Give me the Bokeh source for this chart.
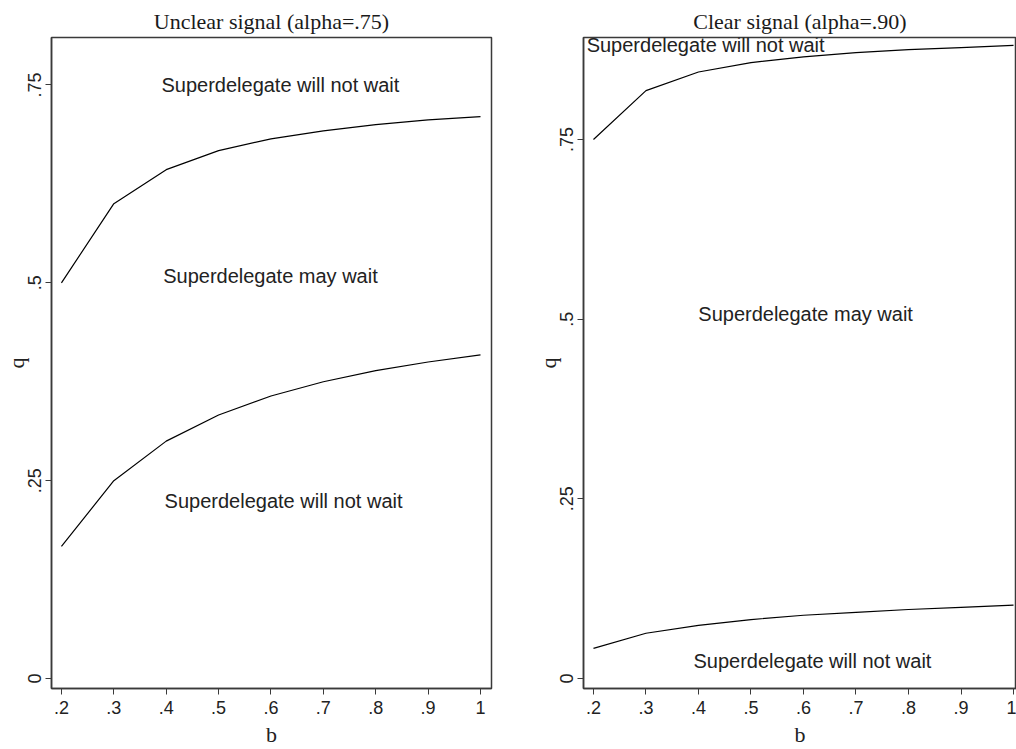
from bokeh.plotting import figure
from bokeh.layouts import row
from bokeh.models import FixedTicker, Range1d, Label
from bokeh.embed import file_html
from bokeh.resources import INLINE

# ---- data ----
b = [0.2, 0.3, 0.4, 0.5, 0.6, 0.7, 0.8, 0.9, 1.0]
unclear_upper = [0.500, 0.600, 0.643, 0.667, 0.682, 0.692, 0.700, 0.706, 0.710]
unclear_lower = [0.167, 0.250, 0.300, 0.333, 0.357, 0.375, 0.389, 0.400, 0.409]
clear_upper = [0.750, 0.818, 0.844, 0.857, 0.865, 0.871, 0.875, 0.878, 0.881]
clear_lower = [0.042, 0.063, 0.074, 0.082, 0.088, 0.092, 0.096, 0.099, 0.102]

x_ticks = [0.2, 0.3, 0.4, 0.5, 0.6, 0.7, 0.8, 0.9, 1.0]
x_tick_labels = [".2", ".3", ".4", ".5", ".6", ".7", ".8", ".9", "1"]
y_ticks = [0, 0.25, 0.5, 0.75]
y_tick_labels = ["0", ".25", ".5", ".75"]

titles = ["Unclear signal (alpha=.75)", "Clear signal (alpha=.90)"]
x_label = "b"
y_label = "q"
txt_not_wait = "Superdelegate will not wait"
txt_may_wait = "Superdelegate may wait"

# annotation placements (b, q)
unclear_notes = [(0.618, 0.750, txt_not_wait, "center"),
                 (0.599, 0.509, txt_may_wait, "center"),
                 (0.624, 0.224, txt_not_wait, "center")]
clear_notes = [(0.187, 0.881, txt_not_wait, "left"),
               (0.604, 0.507, txt_may_wait, "center"),
               (0.617, 0.024, txt_not_wait, "center")]

SANS = "Liberation Sans"
SERIF = "Liberation Serif"
AXIS_COLOR = "#3a3a3a"
TEXT_COLOR = "#222222"


def make_panel(title, upper, lower, notes, xr, yr, width, height, mb_right):
    p = figure(width=width, height=height, output_backend="svg",
               toolbar_location=None, title=title,
               x_range=Range1d(*xr), y_range=Range1d(*yr),
               min_border_left=51, min_border_right=mb_right,
               min_border_top=37, min_border_bottom=60)
    p.title.align = "center"
    p.title.text_font = SERIF
    p.title.text_font_size = "22px"
    p.title.text_font_style = "normal"
    p.title.text_color = "#1a1a1a"
    p.title.standoff = 7
    p.grid.visible = False
    p.background_fill_color = "white"
    p.border_fill_color = "white"
    p.outline_line_color = AXIS_COLOR
    p.outline_line_width = 1.5

    p.xaxis.ticker = FixedTicker(ticks=x_ticks)
    p.xaxis.major_label_overrides = dict(zip(x_ticks, x_tick_labels))
    p.yaxis.ticker = FixedTicker(ticks=y_ticks)
    p.yaxis.major_label_overrides = dict(zip(y_ticks, y_tick_labels))
    p.yaxis.major_label_orientation = "parallel"

    for ax in (p.xaxis, p.yaxis):
        ax.minor_tick_line_color = None
        ax.major_tick_in = 0
        ax.major_tick_out = 6
        ax.major_tick_line_color = AXIS_COLOR
        ax.axis_line_color = AXIS_COLOR
        ax.axis_line_width = 1.5
        ax.major_label_text_font = SANS
        ax.major_label_text_font_size = "18px"
        ax.major_label_text_color = TEXT_COLOR
        ax.axis_label_text_font = SERIF
        ax.axis_label_text_font_size = "22px"
        ax.axis_label_text_font_style = "normal"
        ax.axis_label_text_color = TEXT_COLOR
    p.xaxis.axis_label = x_label
    p.yaxis.axis_label = y_label
    p.xaxis.major_label_standoff = 6
    p.xaxis.axis_label_standoff = 5
    p.yaxis.major_label_standoff = 4
    p.yaxis.axis_label_standoff = -3

    p.line(b, upper, line_color="black", line_width=1.2)
    p.line(b, lower, line_color="black", line_width=1.2)

    for (bx, qy, t, al) in notes:
        p.add_layout(Label(x=bx, y=qy, text=t, text_align=al,
                           text_baseline="middle", text_font=SANS,
                           text_font_size="20px", text_color=TEXT_COLOR))
    return p


left = make_panel(titles[0], unclear_upper, unclear_lower, unclear_notes,
                  (0.181, 1.021), (-0.0126, 0.81), 532, 749, 41)
right = make_panel(titles[1], clear_upper, clear_lower, clear_notes,
                   (0.181, 1.0057), (-0.0139, 0.892), 484, 749, 0)

layout = row(left, right)
open("out.html", "w").write(file_html(layout, INLINE))
